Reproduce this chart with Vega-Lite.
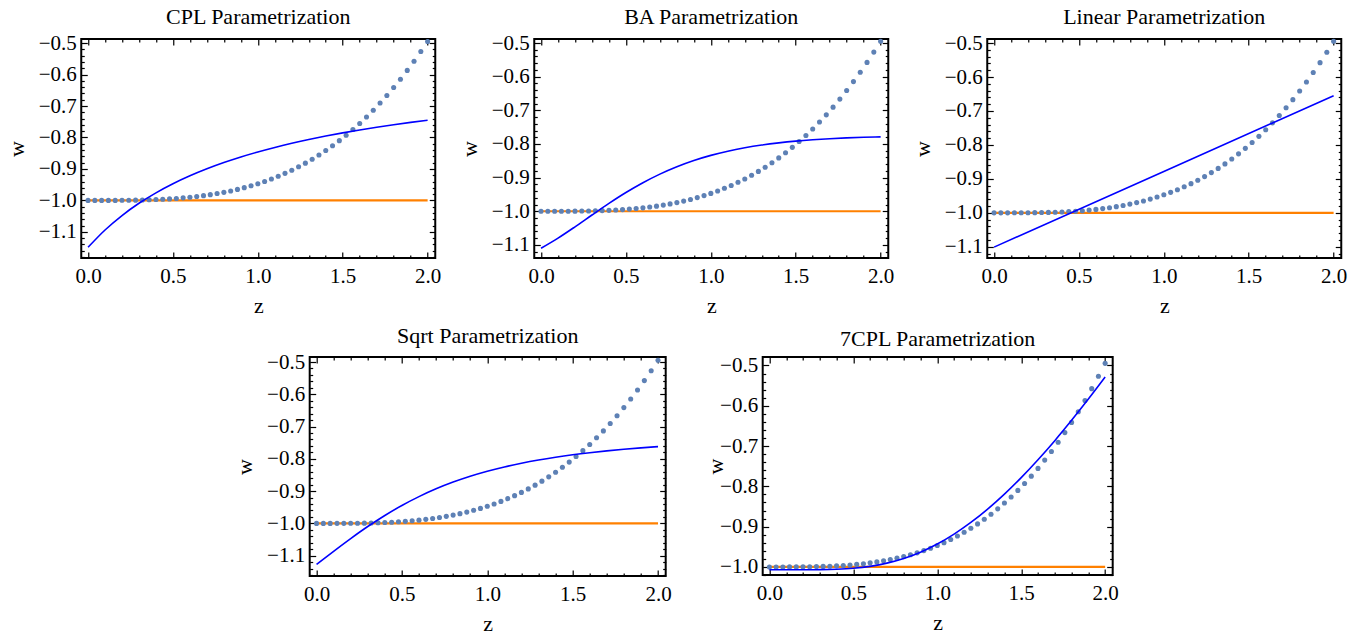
{
  "$schema": "https://vega.github.io/schema/vega-lite/v6.json",
  "background": "white",
  "padding": {"left": 4, "top": 5, "right": 5, "bottom": 2},
  "datasets": {
    "dots": [
      {"z": 0, "w": -1.0}, {"z": 0.04, "w": -1.0}, {"z": 0.08, "w": -1.0}, {"z": 0.12, "w": -0.9999},
      {"z": 0.16, "w": -0.9999}, {"z": 0.2, "w": -0.9997}, {"z": 0.24, "w": -0.9995}, {"z": 0.28, "w": -0.9992},
      {"z": 0.32, "w": -0.9987}, {"z": 0.36, "w": -0.9981}, {"z": 0.4, "w": -0.9973}, {"z": 0.44, "w": -0.9963},
      {"z": 0.48, "w": -0.9951}, {"z": 0.52, "w": -0.9937}, {"z": 0.56, "w": -0.9919}, {"z": 0.6, "w": -0.9899},
      {"z": 0.64, "w": -0.9875}, {"z": 0.68, "w": -0.9848}, {"z": 0.72, "w": -0.9817}, {"z": 0.76, "w": -0.9782},
      {"z": 0.8, "w": -0.9743}, {"z": 0.84, "w": -0.9699}, {"z": 0.88, "w": -0.965}, {"z": 0.92, "w": -0.9595},
      {"z": 0.96, "w": -0.9535}, {"z": 1.0, "w": -0.9469}, {"z": 1.04, "w": -0.9397}, {"z": 1.08, "w": -0.9318},
      {"z": 1.12, "w": -0.9233}, {"z": 1.16, "w": -0.914}, {"z": 1.2, "w": -0.904}, {"z": 1.24, "w": -0.8932},
      {"z": 1.28, "w": -0.8815}, {"z": 1.32, "w": -0.8691}, {"z": 1.36, "w": -0.8558}, {"z": 1.4, "w": -0.8415},
      {"z": 1.44, "w": -0.8263}, {"z": 1.48, "w": -0.8101}, {"z": 1.52, "w": -0.7929}, {"z": 1.56, "w": -0.7747},
      {"z": 1.6, "w": -0.7554}, {"z": 1.64, "w": -0.7349}, {"z": 1.68, "w": -0.7134}, {"z": 1.72, "w": -0.6906},
      {"z": 1.76, "w": -0.6666}, {"z": 1.8, "w": -0.6413}, {"z": 1.84, "w": -0.6147}, {"z": 1.88, "w": -0.5868},
      {"z": 1.92, "w": -0.5576}, {"z": 1.96, "w": -0.5269}, {"z": 2.0, "w": -0.4948}
    ],
    "ref": [{"z": 0, "w": -1}, {"z": 2, "w": -1}],
    "cpl": [
      {"z": 0, "w": -1.149}, {"z": 0.1, "w": -1.0939}, {"z": 0.2, "w": -1.048}, {"z": 0.3, "w": -1.0091},
      {"z": 0.4, "w": -0.9759}, {"z": 0.5, "w": -0.947}, {"z": 0.6, "w": -0.9218}, {"z": 0.7, "w": -0.8995},
      {"z": 0.8, "w": -0.8797}, {"z": 0.9, "w": -0.8619}, {"z": 1.0, "w": -0.846}, {"z": 1.1, "w": -0.8316},
      {"z": 1.2, "w": -0.8184}, {"z": 1.3, "w": -0.8065}, {"z": 1.4, "w": -0.7955}, {"z": 1.5, "w": -0.7854},
      {"z": 1.6, "w": -0.7761}, {"z": 1.7, "w": -0.7675}, {"z": 1.8, "w": -0.7594}, {"z": 1.9, "w": -0.7519},
      {"z": 2.0, "w": -0.745}
    ],
    "ba": [
      {"z": 0, "w": -1.11}, {"z": 0.1, "w": -1.0799}, {"z": 0.2, "w": -1.0463}, {"z": 0.3, "w": -1.0112},
      {"z": 0.4, "w": -0.9767}, {"z": 0.5, "w": -0.9444}, {"z": 0.6, "w": -0.9152}, {"z": 0.7, "w": -0.8896},
      {"z": 0.8, "w": -0.8677}, {"z": 0.9, "w": -0.8492}, {"z": 1.0, "w": -0.834}, {"z": 1.1, "w": -0.8215},
      {"z": 1.2, "w": -0.8114}, {"z": 1.3, "w": -0.8032}, {"z": 1.4, "w": -0.7967}, {"z": 1.5, "w": -0.7915},
      {"z": 1.6, "w": -0.7875}, {"z": 1.7, "w": -0.7843}, {"z": 1.8, "w": -0.7819}, {"z": 1.9, "w": -0.7801},
      {"z": 2.0, "w": -0.7788}
    ],
    "lin": [{"z": 0, "w": -1.101}, {"z": 1, "w": -0.878}, {"z": 2, "w": -0.655}],
    "sqrt": [
      {"z": 0, "w": -1.127}, {"z": 0.1, "w": -1.0864}, {"z": 0.2, "w": -1.047}, {"z": 0.3, "w": -1.0097},
      {"z": 0.4, "w": -0.9755}, {"z": 0.5, "w": -0.9445}, {"z": 0.6, "w": -0.9171}, {"z": 0.7, "w": -0.893},
      {"z": 0.8, "w": -0.8721}, {"z": 0.9, "w": -0.854}, {"z": 1.0, "w": -0.8385}, {"z": 1.1, "w": -0.8251},
      {"z": 1.2, "w": -0.8136}, {"z": 1.3, "w": -0.8036}, {"z": 1.4, "w": -0.795}, {"z": 1.5, "w": -0.7875},
      {"z": 1.6, "w": -0.781}, {"z": 1.7, "w": -0.7753}, {"z": 1.8, "w": -0.7703}, {"z": 1.9, "w": -0.766},
      {"z": 2.0, "w": -0.7621}
    ],
    "cpl7": [
      {"z": 0, "w": -1.007}, {"z": 0.1, "w": -1.007}, {"z": 0.2, "w": -1.007}, {"z": 0.3, "w": -1.0067},
      {"z": 0.4, "w": -1.0057}, {"z": 0.5, "w": -1.0033}, {"z": 0.6, "w": -0.9985}, {"z": 0.7, "w": -0.9906},
      {"z": 0.8, "w": -0.979}, {"z": 0.9, "w": -0.9633}, {"z": 1.0, "w": -0.9432}, {"z": 1.1, "w": -0.9186},
      {"z": 1.2, "w": -0.8896}, {"z": 1.3, "w": -0.8564}, {"z": 1.4, "w": -0.8192}, {"z": 1.5, "w": -0.7783},
      {"z": 1.6, "w": -0.7339}, {"z": 1.7, "w": -0.6866}, {"z": 1.8, "w": -0.6362}, {"z": 1.9, "w": -0.5835},
      {"z": 2.0, "w": -0.5288}
    ]
  },
  "vconcat": [
    {
      "hconcat": [
        {
          "title": "CPL Parametrization",
          "width": 354, "height": 219,
          "resolve": {"axis": {"x": "independent", "y": "independent"}},
          "layer": [
            {"data": {"name": "ref"}, "mark": {"type": "line", "color": "#FF8000", "strokeWidth": 2.2},
             "encoding": {
               "x": {"field": "z", "type": "quantitative", "scale": {"domain": [-0.04, 2.045], "nice": false, "zero": false},
                     "axis": {"orient": "bottom", "values": [0, 0.5, 1, 1.5, 2], "format": ".1f", "tickSize": -6, "labelPadding": 13, "title": "z", "titlePadding": 9}},
               "y": {"field": "w", "type": "quantitative", "scale": {"domain": [-1.183, -0.487], "nice": false, "zero": false},
                     "axis": {"orient": "left", "values": [-1.1, -1, -0.9, -0.8, -0.7, -0.6, -0.5], "format": ".1f", "tickSize": -6, "labelPadding": 11, "title": "w", "titlePadding": 10}}}},
            {"data": {"name": "dots"}, "mark": {"type": "point", "filled": true, "color": "#5E81B5", "size": 26, "opacity": 1},
             "encoding": {
               "x": {"field": "z", "type": "quantitative", "axis": {"orient": "bottom", "values": [0.1,0.2,0.3,0.4,0.6,0.7,0.8,0.9,1.1,1.2,1.3,1.4,1.6,1.7,1.8,1.9], "labels": false, "tickSize": -3, "title": null}},
               "y": {"field": "w", "type": "quantitative", "axis": {"orient": "left", "values": [-1.18,-1.16,-1.14,-1.12,-1.08,-1.06,-1.04,-1.02,-0.98,-0.96,-0.94,-0.92,-0.88,-0.86,-0.84,-0.82,-0.78,-0.76,-0.74,-0.72,-0.68,-0.66,-0.64,-0.62,-0.58,-0.56,-0.54,-0.52], "labels": false, "tickSize": -3, "title": null}}}},
            {"data": {"name": "cpl"}, "mark": {"type": "line", "color": "#0000FF", "strokeWidth": 1.6, "interpolate": "monotone"},
             "encoding": {
               "x": {"field": "z", "type": "quantitative", "axis": {"orient": "top", "values": [0, 0.5, 1, 1.5, 2], "labels": false, "tickSize": -6, "title": null}},
               "y": {"field": "w", "type": "quantitative", "axis": {"orient": "right", "values": [-1.1, -1, -0.9, -0.8, -0.7, -0.6, -0.5], "labels": false, "tickSize": -6, "title": null}}}},
            {"data": {"name": "dots"}, "mark": {"type": "point", "opacity": 0},
             "encoding": {
               "x": {"field": "z", "type": "quantitative", "axis": {"orient": "top", "values": [0.1,0.2,0.3,0.4,0.6,0.7,0.8,0.9,1.1,1.2,1.3,1.4,1.6,1.7,1.8,1.9], "labels": false, "tickSize": -3, "title": null}},
               "y": {"field": "w", "type": "quantitative", "axis": {"orient": "right", "values": [-1.18,-1.16,-1.14,-1.12,-1.08,-1.06,-1.04,-1.02,-0.98,-0.96,-0.94,-0.92,-0.88,-0.86,-0.84,-0.82,-0.78,-0.76,-0.74,-0.72,-0.68,-0.66,-0.64,-0.62,-0.58,-0.56,-0.54,-0.52], "labels": false, "tickSize": -3, "title": null}}}}
          ]
        },
        {
          "title": "BA Parametrization",
          "width": 354, "height": 219,
          "resolve": {"axis": {"x": "independent", "y": "independent"}},
          "layer": [
            {"data": {"name": "ref"}, "mark": {"type": "line", "color": "#FF8000", "strokeWidth": 2.2},
             "encoding": {
               "x": {"field": "z", "type": "quantitative", "scale": {"domain": [-0.04, 2.045], "nice": false, "zero": false},
                     "axis": {"orient": "bottom", "values": [0, 0.5, 1, 1.5, 2], "format": ".1f", "tickSize": -6, "labelPadding": 13, "title": "z", "titlePadding": 9}},
               "y": {"field": "w", "type": "quantitative", "scale": {"domain": [-1.139, -0.488], "nice": false, "zero": false},
                     "axis": {"orient": "left", "values": [-1.1, -1, -0.9, -0.8, -0.7, -0.6, -0.5], "format": ".1f", "tickSize": -6, "labelPadding": 11, "title": "w", "titlePadding": 10}}}},
            {"data": {"name": "dots"}, "mark": {"type": "point", "filled": true, "color": "#5E81B5", "size": 26, "opacity": 1},
             "encoding": {
               "x": {"field": "z", "type": "quantitative", "axis": {"orient": "bottom", "values": [0.1,0.2,0.3,0.4,0.6,0.7,0.8,0.9,1.1,1.2,1.3,1.4,1.6,1.7,1.8,1.9], "labels": false, "tickSize": -3, "title": null}},
               "y": {"field": "w", "type": "quantitative", "axis": {"orient": "left", "values": [-1.12,-1.08,-1.06,-1.04,-1.02,-0.98,-0.96,-0.94,-0.92,-0.88,-0.86,-0.84,-0.82,-0.78,-0.76,-0.74,-0.72,-0.68,-0.66,-0.64,-0.62,-0.58,-0.56,-0.54,-0.52], "labels": false, "tickSize": -3, "title": null}}}},
            {"data": {"name": "ba"}, "mark": {"type": "line", "color": "#0000FF", "strokeWidth": 1.6, "interpolate": "monotone"},
             "encoding": {
               "x": {"field": "z", "type": "quantitative", "axis": {"orient": "top", "values": [0, 0.5, 1, 1.5, 2], "labels": false, "tickSize": -6, "title": null}},
               "y": {"field": "w", "type": "quantitative", "axis": {"orient": "right", "values": [-1.1, -1, -0.9, -0.8, -0.7, -0.6, -0.5], "labels": false, "tickSize": -6, "title": null}}}},
            {"data": {"name": "dots"}, "mark": {"type": "point", "opacity": 0},
             "encoding": {
               "x": {"field": "z", "type": "quantitative", "axis": {"orient": "top", "values": [0.1,0.2,0.3,0.4,0.6,0.7,0.8,0.9,1.1,1.2,1.3,1.4,1.6,1.7,1.8,1.9], "labels": false, "tickSize": -3, "title": null}},
               "y": {"field": "w", "type": "quantitative", "axis": {"orient": "right", "values": [-1.12,-1.08,-1.06,-1.04,-1.02,-0.98,-0.96,-0.94,-0.92,-0.88,-0.86,-0.84,-0.82,-0.78,-0.76,-0.74,-0.72,-0.68,-0.66,-0.64,-0.62,-0.58,-0.56,-0.54,-0.52], "labels": false, "tickSize": -3, "title": null}}}}
          ]
        },
        {
          "title": "Linear Parametrization",
          "width": 354, "height": 219,
          "resolve": {"axis": {"x": "independent", "y": "independent"}},
          "layer": [
            {"data": {"name": "ref"}, "mark": {"type": "line", "color": "#FF8000", "strokeWidth": 2.2},
             "encoding": {
               "x": {"field": "z", "type": "quantitative", "scale": {"domain": [-0.04, 2.045], "nice": false, "zero": false},
                     "axis": {"orient": "bottom", "values": [0, 0.5, 1, 1.5, 2], "format": ".1f", "tickSize": -6, "labelPadding": 13, "title": "z", "titlePadding": 9}},
               "y": {"field": "w", "type": "quantitative", "scale": {"domain": [-1.133, -0.488], "nice": false, "zero": false},
                     "axis": {"orient": "left", "values": [-1.1, -1, -0.9, -0.8, -0.7, -0.6, -0.5], "format": ".1f", "tickSize": -6, "labelPadding": 11, "title": "w", "titlePadding": 10}}}},
            {"data": {"name": "dots"}, "mark": {"type": "point", "filled": true, "color": "#5E81B5", "size": 26, "opacity": 1},
             "encoding": {
               "x": {"field": "z", "type": "quantitative", "axis": {"orient": "bottom", "values": [0.1,0.2,0.3,0.4,0.6,0.7,0.8,0.9,1.1,1.2,1.3,1.4,1.6,1.7,1.8,1.9], "labels": false, "tickSize": -3, "title": null}},
               "y": {"field": "w", "type": "quantitative", "axis": {"orient": "left", "values": [-1.12,-1.08,-1.06,-1.04,-1.02,-0.98,-0.96,-0.94,-0.92,-0.88,-0.86,-0.84,-0.82,-0.78,-0.76,-0.74,-0.72,-0.68,-0.66,-0.64,-0.62,-0.58,-0.56,-0.54,-0.52], "labels": false, "tickSize": -3, "title": null}}}},
            {"data": {"name": "lin"}, "mark": {"type": "line", "color": "#0000FF", "strokeWidth": 1.6},
             "encoding": {
               "x": {"field": "z", "type": "quantitative", "axis": {"orient": "top", "values": [0, 0.5, 1, 1.5, 2], "labels": false, "tickSize": -6, "title": null}},
               "y": {"field": "w", "type": "quantitative", "axis": {"orient": "right", "values": [-1.1, -1, -0.9, -0.8, -0.7, -0.6, -0.5], "labels": false, "tickSize": -6, "title": null}}}},
            {"data": {"name": "dots"}, "mark": {"type": "point", "opacity": 0},
             "encoding": {
               "x": {"field": "z", "type": "quantitative", "axis": {"orient": "top", "values": [0.1,0.2,0.3,0.4,0.6,0.7,0.8,0.9,1.1,1.2,1.3,1.4,1.6,1.7,1.8,1.9], "labels": false, "tickSize": -3, "title": null}},
               "y": {"field": "w", "type": "quantitative", "axis": {"orient": "right", "values": [-1.12,-1.08,-1.06,-1.04,-1.02,-0.98,-0.96,-0.94,-0.92,-0.88,-0.86,-0.84,-0.82,-0.78,-0.76,-0.74,-0.72,-0.68,-0.66,-0.64,-0.62,-0.58,-0.56,-0.54,-0.52], "labels": false, "tickSize": -3, "title": null}}}}
          ]
        }
      ],
      "spacing": 14
    },
    {
      "hconcat": [
        {
          "title": "Sqrt Parametrization",
          "width": 356, "height": 219,
          "resolve": {"axis": {"x": "independent", "y": "independent"}},
          "layer": [
            {"data": {"name": "ref"}, "mark": {"type": "line", "color": "#FF8000", "strokeWidth": 2.2},
             "encoding": {
               "x": {"field": "z", "type": "quantitative", "scale": {"domain": [-0.04, 2.045], "nice": false, "zero": false},
                     "axis": {"orient": "bottom", "values": [0, 0.5, 1, 1.5, 2], "format": ".1f", "tickSize": -6, "labelPadding": 13, "title": "z", "titlePadding": 9}},
               "y": {"field": "w", "type": "quantitative", "scale": {"domain": [-1.163, -0.4845], "nice": false, "zero": false},
                     "axis": {"orient": "left", "values": [-1.1, -1, -0.9, -0.8, -0.7, -0.6, -0.5], "format": ".1f", "tickSize": -6, "labelPadding": 11, "title": "w", "titlePadding": 10}}}},
            {"data": {"name": "dots"}, "mark": {"type": "point", "filled": true, "color": "#5E81B5", "size": 26, "opacity": 1},
             "encoding": {
               "x": {"field": "z", "type": "quantitative", "axis": {"orient": "bottom", "values": [0.1,0.2,0.3,0.4,0.6,0.7,0.8,0.9,1.1,1.2,1.3,1.4,1.6,1.7,1.8,1.9], "labels": false, "tickSize": -3, "title": null}},
               "y": {"field": "w", "type": "quantitative", "axis": {"orient": "left", "values": [-1.16,-1.14,-1.12,-1.08,-1.06,-1.04,-1.02,-0.98,-0.96,-0.94,-0.92,-0.88,-0.86,-0.84,-0.82,-0.78,-0.76,-0.74,-0.72,-0.68,-0.66,-0.64,-0.62,-0.58,-0.56,-0.54,-0.52], "labels": false, "tickSize": -3, "title": null}}}},
            {"data": {"name": "sqrt"}, "mark": {"type": "line", "color": "#0000FF", "strokeWidth": 1.6, "interpolate": "monotone"},
             "encoding": {
               "x": {"field": "z", "type": "quantitative", "axis": {"orient": "top", "values": [0, 0.5, 1, 1.5, 2], "labels": false, "tickSize": -6, "title": null}},
               "y": {"field": "w", "type": "quantitative", "axis": {"orient": "right", "values": [-1.1, -1, -0.9, -0.8, -0.7, -0.6, -0.5], "labels": false, "tickSize": -6, "title": null}}}},
            {"data": {"name": "dots"}, "mark": {"type": "point", "opacity": 0},
             "encoding": {
               "x": {"field": "z", "type": "quantitative", "axis": {"orient": "top", "values": [0.1,0.2,0.3,0.4,0.6,0.7,0.8,0.9,1.1,1.2,1.3,1.4,1.6,1.7,1.8,1.9], "labels": false, "tickSize": -3, "title": null}},
               "y": {"field": "w", "type": "quantitative", "axis": {"orient": "right", "values": [-1.16,-1.14,-1.12,-1.08,-1.06,-1.04,-1.02,-0.98,-0.96,-0.94,-0.92,-0.88,-0.86,-0.84,-0.82,-0.78,-0.76,-0.74,-0.72,-0.68,-0.66,-0.64,-0.62,-0.58,-0.56,-0.54,-0.52], "labels": false, "tickSize": -3, "title": null}}}}
          ]
        },
        {
          "title": "7CPL Parametrization",
          "width": 350, "height": 218,
          "resolve": {"axis": {"x": "independent", "y": "independent"}},
          "layer": [
            {"data": {"name": "ref"}, "mark": {"type": "line", "color": "#FF8000", "strokeWidth": 2.2},
             "encoding": {
               "x": {"field": "z", "type": "quantitative", "scale": {"domain": [-0.04, 2.045], "nice": false, "zero": false},
                     "axis": {"orient": "bottom", "values": [0, 0.5, 1, 1.5, 2], "format": ".1f", "tickSize": -6, "labelPadding": 13, "title": "z", "titlePadding": 9}},
               "y": {"field": "w", "type": "quantitative", "scale": {"domain": [-1.02, -0.479], "nice": false, "zero": false},
                     "axis": {"orient": "left", "values": [-1, -0.9, -0.8, -0.7, -0.6, -0.5], "format": ".1f", "tickSize": -6, "labelPadding": 11, "title": "w", "titlePadding": -8}}}},
            {"data": {"name": "dots"}, "mark": {"type": "point", "filled": true, "color": "#5E81B5", "size": 26, "opacity": 1},
             "encoding": {
               "x": {"field": "z", "type": "quantitative", "axis": {"orient": "bottom", "values": [0.1,0.2,0.3,0.4,0.6,0.7,0.8,0.9,1.1,1.2,1.3,1.4,1.6,1.7,1.8,1.9], "labels": false, "tickSize": -3, "title": null}},
               "y": {"field": "w", "type": "quantitative", "axis": {"orient": "left", "values": [-1.02,-0.98,-0.96,-0.94,-0.92,-0.88,-0.86,-0.84,-0.82,-0.78,-0.76,-0.74,-0.72,-0.68,-0.66,-0.64,-0.62,-0.58,-0.56,-0.54,-0.52], "labels": false, "tickSize": -3, "title": null}}}},
            {"data": {"name": "cpl7"}, "mark": {"type": "line", "color": "#0000FF", "strokeWidth": 1.6, "interpolate": "monotone"},
             "encoding": {
               "x": {"field": "z", "type": "quantitative", "axis": {"orient": "top", "values": [0, 0.5, 1, 1.5, 2], "labels": false, "tickSize": -6, "title": null}},
               "y": {"field": "w", "type": "quantitative", "axis": {"orient": "right", "values": [-1, -0.9, -0.8, -0.7, -0.6, -0.5], "labels": false, "tickSize": -6, "title": "w", "titleOpacity": 0, "titlePadding": -18}}}},
            {"data": {"name": "dots"}, "mark": {"type": "point", "opacity": 0},
             "encoding": {
               "x": {"field": "z", "type": "quantitative", "axis": {"orient": "top", "values": [0.1,0.2,0.3,0.4,0.6,0.7,0.8,0.9,1.1,1.2,1.3,1.4,1.6,1.7,1.8,1.9], "labels": false, "tickSize": -3, "title": null}},
               "y": {"field": "w", "type": "quantitative", "axis": {"orient": "right", "values": [-1.02,-0.98,-0.96,-0.94,-0.92,-0.88,-0.86,-0.84,-0.82,-0.78,-0.76,-0.74,-0.72,-0.68,-0.66,-0.64,-0.62,-0.58,-0.56,-0.54,-0.52], "labels": false, "tickSize": -3, "title": null}}}}
          ]
        }
      ],
      "spacing": 30
    }
  ],
  "spacing": 7,
  "center": true,
  "config": {
    "view": {"stroke": "black", "strokeWidth": 2},
    "font": "Liberation Serif",
    "axis": {"domain": false, "grid": false, "tickColor": "black", "tickWidth": 1.2, "labelFont": "Liberation Serif", "labelFontSize": 21, "labelColor": "black", "titleFont": "Liberation Serif", "titleFontSize": 22, "titleFontWeight": "normal", "titleColor": "black", "labelFlush": false, "labelOverlap": false},
    "title": {"font": "Liberation Serif", "fontSize": 22, "fontWeight": "normal", "color": "black", "frame": "group", "offset": 3}
  }
}
